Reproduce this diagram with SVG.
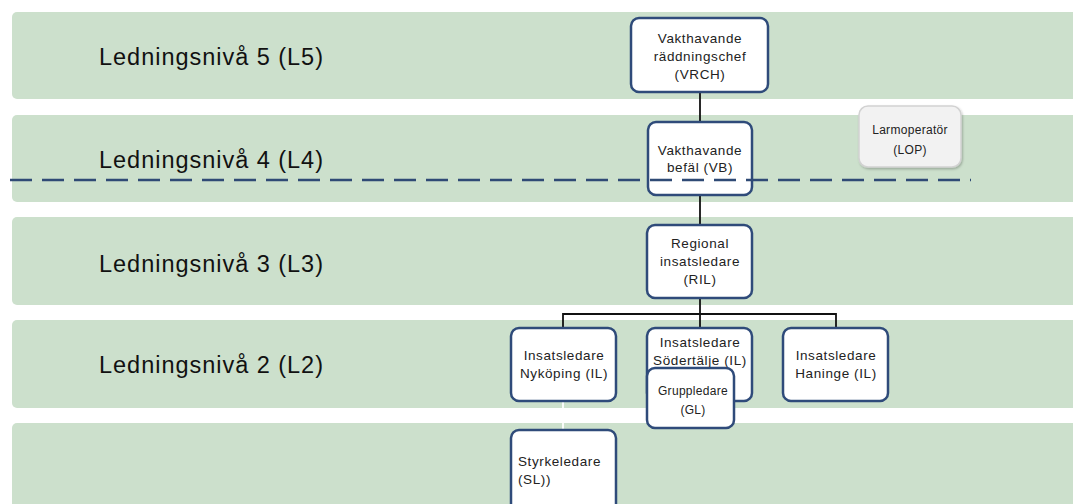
<svg xmlns="http://www.w3.org/2000/svg" width="1073" height="504" viewBox="0 0 1073 504">
<style>
.band{fill:#CCE0CC}
.lvl{font-family:"Liberation Sans",Arial,sans-serif;font-size:23.5px;fill:#111}
.box{fill:#fff;stroke:#2F4B7A;stroke-width:2.5}
.t{font-family:"Liberation Sans",Arial,sans-serif;font-size:13.5px;letter-spacing:0.6px;fill:#222;text-anchor:middle}
.ts{font-family:"Liberation Sans",Arial,sans-serif;font-size:12px;letter-spacing:0.3px;fill:#222;text-anchor:middle}
.conn{fill:none;stroke:#111;stroke-width:1.8}
</style>
<defs>
<filter id="sh" x="-10%" y="-10%" width="130%" height="130%">
<feDropShadow dx="1" dy="1.5" stdDeviation="1.2" flood-color="#000" flood-opacity="0.25"/>
</filter>
</defs>
<rect width="1073" height="504" fill="#fff"/>
<g id="bands">
<rect class="band" x="12" y="12" width="1080" height="87" rx="5"/>
<rect class="band" x="12" y="115" width="1080" height="87" rx="5"/>
<rect class="band" x="12" y="217" width="1080" height="88" rx="5"/>
<rect class="band" x="12" y="320" width="1080" height="88" rx="5"/>
<rect class="band" x="12" y="423" width="1080" height="100" rx="5"/>
<text class="lvl" x="99" y="65" textLength="224">Ledningsnivå 5 (L5)</text>
<text class="lvl" x="99" y="168" textLength="224">Ledningsnivå 4 (L4)</text>
<text class="lvl" x="99" y="272" textLength="224">Ledningsnivå 3 (L3)</text>
<text class="lvl" x="99" y="373" textLength="224">Ledningsnivå 2 (L2)</text>
</g>
<g id="connectors">
<line class="conn" x1="700" y1="92" x2="700" y2="122"/>
<line class="conn" x1="700" y1="195" x2="700" y2="225"/>
<path class="conn" d="M700 298 V314 M563 328 V314 H836 V328 M700 314 V328"/>
<line x1="563" y1="401" x2="563" y2="430" stroke="#fff" stroke-width="1.8"/>
</g>
<g id="vrch">
<rect class="box" x="631" y="18" width="137" height="74" rx="8"/>
<text class="t" x="700" y="43">Vakthavande</text>
<text class="t" x="700" y="61">räddningschef</text>
<text class="t" x="700" y="79">(VRCH)</text>
</g>
<g id="vb">
<rect class="box" x="648" y="122" width="104" height="73" rx="8"/>
<text class="t" x="700" y="155">Vakthavande</text>
<text class="t" x="700" y="172">befäl (VB)</text>
</g>
<g id="lop">
<rect x="859" y="106" width="102" height="61" rx="9" fill="#F2F2F2" stroke="#D2D2D2" stroke-width="1.5" filter="url(#sh)"/>
<text class="ts" x="910" y="134">Larmoperatör</text>
<text class="ts" x="910" y="154">(LOP)</text>
</g>
<g id="ril">
<rect class="box" x="647" y="225" width="105" height="73" rx="8"/>
<text class="t" x="700" y="248">Regional</text>
<text class="t" x="700" y="266">insatsledare</text>
<text class="t" x="700" y="284">(RIL)</text>
</g>
<g id="il-nykoping">
<rect class="box" x="511" y="328" width="105" height="73" rx="8"/>
<text class="t" x="564" y="360">Insatsledare</text>
<text class="t" x="564" y="378">Nyköping (IL)</text>
</g>
<g id="il-sodertalje">
<rect class="box" x="647" y="328" width="105" height="73" rx="8"/>
<text class="t" x="700" y="347">Insatsledare</text>
<text class="t" x="700" y="365">Södertälje (IL)</text>
</g>
<g id="il-haninge">
<rect class="box" x="783" y="328" width="105" height="73" rx="8"/>
<text class="t" x="836" y="360">Insatsledare</text>
<text class="t" x="836" y="378">Haninge (IL)</text>
</g>
<g id="gl">
<rect class="box" x="647" y="368" width="87" height="60" rx="8"/>
<text class="ts" x="693" y="395">Gruppledare</text>
<text class="ts" x="693" y="414">(GL)</text>
</g>
<g id="sl">
<rect class="box" x="511" y="430" width="105" height="85" rx="8"/>
<text class="t" x="518" y="466" style="text-anchor:start">Styrkeledare</text>
<text class="t" x="518" y="484" style="text-anchor:start">(SL))</text>
</g>
<g id="divider">
<line x1="10" y1="180" x2="971" y2="180" stroke="#2F4A75" stroke-width="2.7" stroke-dasharray="22 10"/>
</g>
</svg>
